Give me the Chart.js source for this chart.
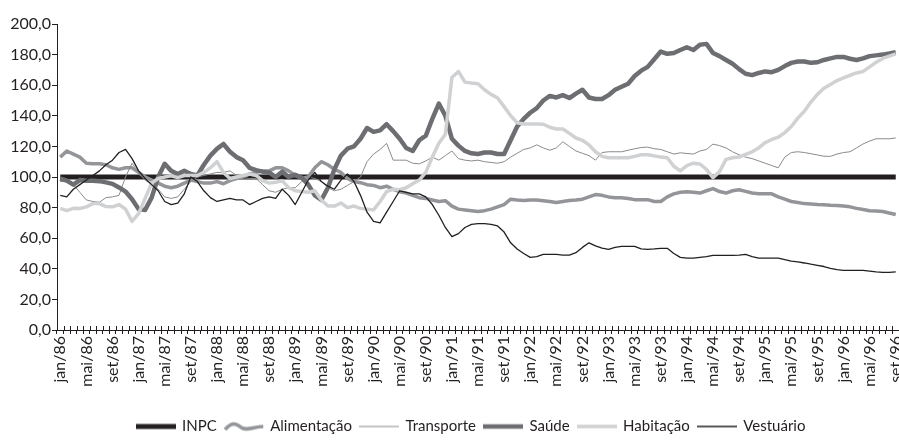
<!DOCTYPE html>
<html lang="pt-BR">
<head>
<meta charset="utf-8">
<title>INPC e componentes, jan/86 a set/96</title>
<script src="https://cdn.jsdelivr.net/npm/chart.js@4/dist/chart.umd.min.js"></script>
<style>
  html, body { margin: 0; padding: 0; background: #fff; }
</style>
</head>
<body>
<canvas id="chart" width="899" height="447"></canvas>
<script>
// meses de jan/86 a set/96 (129 observacoes)
const meses = ['jan', 'fev', 'mar', 'abr', 'mai', 'jun', 'jul', 'ago', 'set', 'out', 'nov', 'dez'];
const anos = ['86', '87', '88', '89', '90', '91', '92', '93', '94', '95', '96'];
const TOTAL_MESES = 129;

const yTicks = [0, 20, 40, 60, 80, 100, 120, 140, 160, 180, 200];

const inpc = new Array(TOTAL_MESES).fill(100);

const alimentacao = [
  113, 117, 115, 113, 109, 108.7, 108.7, 108, 106, 105,
  106, 106, 103, 100, 98, 96, 94, 93, 94, 96,
  98, 97, 96, 96, 97, 95.6, 97.6, 99, 100, 102,
  103, 104, 104, 106, 106, 104, 101, 99, 100, 106,
  110, 108, 105, 103, 99, 97, 96.3, 95, 94.5, 93,
  94, 92, 90.4, 89.5, 88, 86.5, 86, 85, 84, 84.5,
  81, 79, 78.5, 78, 77.5, 78, 79, 80.5, 82, 85.5,
  85, 84.6, 85, 85, 84.5, 84, 83.3, 84, 84.6, 85,
  85.5, 87, 88.5, 88, 87, 86.5, 86.5, 86, 85.2, 85.2,
  85.2, 84, 84, 87, 89, 90, 90.4, 90, 89.5, 91,
  92.4, 90.5, 89.5, 91, 91.7, 90.6, 89.5, 89, 89, 89,
  87, 85.5, 84, 83.3, 82.6, 82.4, 82, 81.8, 81.5, 81.3,
  81, 80.5, 79.5, 78.8, 78, 77.7, 77.4, 76.5, 75.5
];

const transporte = [
  97, 97, 95, 90, 85, 84, 83.5, 86.5, 87, 88,
  100, 109, 103, 98, 95, 92, 87, 86, 87, 92,
  97, 100, 101, 102, 103, 103, 104, 101, 99.5, 99,
  99, 95, 91, 90, 92, 93, 93, 97, 100, 99,
  97, 93, 91, 92, 94.5, 97, 100, 110, 115, 118,
  122, 111, 111, 111, 109, 108.6, 110.5, 113, 111, 114,
  117, 112, 111, 110.5, 111, 110, 109.5, 109, 110, 113,
  115.5, 118, 119, 121, 119, 117.5, 119, 123, 120, 117,
  115.5, 114, 111, 116, 116.5, 116.5, 116.5, 117.5, 118.4, 119.3,
  119.5, 118.5, 118, 116.5, 115, 115.8, 115.4, 115, 117, 118,
  121.5, 120.5, 119, 116.5, 114.5, 113, 112, 110.5, 109, 107.5,
  106, 113, 116, 116.5, 116, 115.2, 114.4, 113.6, 113.5, 115,
  116, 116.5, 119, 121.6, 123.5, 125, 125, 125, 125.5
];

const saude = [
  99, 97.6, 95, 98, 97.6, 97.6, 97.3, 96.5, 95.5, 93.2,
  90.5, 85.5, 79, 78.5, 86.5, 100, 108.6, 104, 102, 104,
  102, 101, 108, 114, 118.4, 121.6, 116.5, 113, 111, 106,
  104.5, 103.5, 103, 100, 103.5, 100, 101.5, 99.5, 95, 88,
  85, 93, 105, 114, 118.5, 120, 125, 132, 129.5, 130.5,
  134.5, 130, 125, 119, 117, 124, 127, 138, 148, 140,
  125, 120.5, 117, 115.5, 115, 116, 116, 115, 115, 124,
  133, 138, 142, 145, 150, 153, 152, 153.5, 151.6, 154.5,
  157, 152, 151, 151, 153.5, 157, 159, 161, 166, 169.5,
  172, 177, 182, 180.5, 181, 183, 184.8, 183, 186.5, 187,
  181, 179, 176.5, 174, 170.5, 167.5, 166.6, 168, 169, 168.5,
  170, 172.5, 174.6, 175.5, 175.5, 174.6, 175, 176.5, 177.5, 178.5,
  178.5, 177.3, 176.5, 177.5, 179, 179.5, 180, 180.7, 181.5
];

const habitacao = [
  79.5, 78, 79.5, 79.4, 80.5, 82.6, 82.6, 80.7, 80.5, 82,
  79, 71, 76, 86, 96, 99, 100, 100.8, 99.6, 101,
  101, 101, 103, 106, 110, 103, 99, 100, 101, 102,
  101, 97.6, 96, 96.5, 97.6, 93, 91, 90.5, 90, 91,
  85, 81, 81, 83, 80, 81, 79.5, 79, 78.5, 84,
  90.5, 92, 91.7, 93, 95.6, 98, 103, 113, 122, 128,
  165, 169, 162, 161.4, 161, 157, 154, 151.6, 146, 140,
  135.5, 134.7, 134.7, 134.7, 134.5, 132.5, 131.4, 131.4, 128.5, 125.5,
  124, 121, 116.5, 113.5, 112.6, 112.6, 112.6, 112.6, 113.5, 114.5,
  114.5, 113.8, 113, 112.6, 107, 104, 107.4, 109, 108.5, 105,
  99.6, 103.5, 111.5, 112.6, 113, 114.8, 116.5, 119, 122.5, 124.5,
  126, 129, 133, 138.5, 143, 149, 154, 158, 160.5, 163,
  164.8, 166.5, 168, 169, 172, 175, 177.5, 179, 180.5
];

const vestuario = [
  88, 87, 92, 95, 98, 101, 104, 108, 111, 116,
  118, 112, 104, 99, 95, 91, 84, 82, 83, 89,
  100, 97, 91, 86.5, 84, 85, 86, 85, 85, 82,
  84, 86, 87, 86, 92, 88, 82, 90, 98, 103,
  97, 94, 92, 98, 102, 97, 88, 77, 71, 70,
  77, 84, 91, 90, 89, 89, 87, 82, 75, 67,
  61, 63, 67, 69, 69.5, 69.5, 69, 68, 64, 57,
  53, 50, 47.5, 48, 49.4, 49.4, 49.4, 49, 49, 50.5,
  54, 57, 55, 53.5, 52.7, 54, 54.7, 54.7, 54.7, 53,
  52.7, 53, 53.4, 53.4, 50, 47.5, 47, 47, 47.5, 48,
  48.8, 48.8, 48.8, 48.8, 49, 49.4, 48, 47, 47, 47,
  47, 46, 45, 44.5, 43.8, 43, 42.3, 41.5, 40.3, 39.5,
  39, 39, 39, 39, 38.5, 38, 37.7, 37.7, 38
];

const labels = [];
anos.forEach(a => meses.forEach(m => {
  if (labels.length < TOTAL_MESES) labels.push(`${m}/${a}`);
}));

const TEXTO = '#231f20';

// icones da legenda (linha reta ou ondulada)
function iconeLinha(cor, espessura, ondulada) {
  const c = document.createElement('canvas');
  c.width = 40;
  c.height = 12;
  const g = c.getContext('2d');
  g.strokeStyle = cor;
  g.lineWidth = espessura;
  g.beginPath();
  if (ondulada) {
    g.moveTo(1, 9);
    g.bezierCurveTo(7, 2, 11, 2, 17, 7);
    g.bezierCurveTo(23, 11, 29, 6, 39, 6);
  } else {
    g.moveTo(0, 6);
    g.lineTo(40, 6);
  }
  g.stroke();
  return c;
}

function serie(label, data, cor, espessura, ordem, ondulada) {
  return {
    label,
    data,
    borderColor: cor,
    backgroundColor: cor,
    borderWidth: espessura,
    borderJoinStyle: 'round',
    pointRadius: 0,
    pointStyle: iconeLinha(cor, espessura, ondulada),
    tension: 0,
    order: ordem
  };
}

// marcas do eixo x atravessando a linha (parte de cima)
const cruzTicks = {
  id: 'cruzTicks',
  afterDraw(chart) {
    const x = chart.scales.x;
    const passo = x.width / x.ticks.length;
    const ctx = chart.ctx;
    ctx.save();
    ctx.strokeStyle = TEXTO;
    ctx.lineWidth = 1;
    ctx.beginPath();
    for (let i = 0; i <= x.ticks.length; i++) {
      const px = Math.round(x.left + i * passo) + 0.5;
      ctx.moveTo(px, x.top - 4);
      ctx.lineTo(px, x.top);
    }
    ctx.stroke();
    ctx.restore();
  }
};

// legenda um pouco deslocada para a direita, como no original
const moveLegenda = {
  id: 'moveLegenda',
  afterLayout(chart) {
    chart.legend.left += 22;
    chart.legend.right += 22;
  }
};

Chart.defaults.font.family = 'Lato, "Open Sans", sans-serif';
Chart.defaults.color = TEXTO;

new Chart(document.getElementById('chart'), {
  type: 'line',
  data: {
    labels,
    datasets: [
      serie('INPC', inpc, '#231f20', 5, 5),
      serie('Alimentação', alimentacao, '#939598', 3.5, 4, true),
      serie('Transporte', transporte, '#8a8a8c', 1, 3),
      serie('Saúde', saude, '#6d6e71', 4.5, 2),
      serie('Habitação', habitacao, '#d0d1d3', 3.5, 1),
      serie('Vestuário', vestuario, '#231f20', 1.3, 0)
    ]
  },
  options: {
    responsive: false,
    animation: false,
    layout: { padding: { top: 24, right: 0, bottom: 3, left: 0 } },
    plugins: {
      tooltip: { enabled: false },
      legend: {
        position: 'bottom',
        labels: {
          usePointStyle: true,
          pointStyleWidth: 37,
          padding: 9,
          font: { size: 15 },
          color: TEXTO,
          sort: (a, b) => a.datasetIndex - b.datasetIndex
        }
      }
    },
    scales: {
      x: {
        offset: true,
        afterFit: s => {
          s.height = 80;
          s.paddingLeft = 0;
          s.paddingRight = 0;
        },
        grid: {
          offset: true,
          drawOnChartArea: false,
          drawTicks: true,
          tickLength: 4,
          color: TEXTO
        },
        border: { display: true, color: TEXTO, width: 1 },
        ticks: {
          autoSkip: false,
          maxRotation: 90,
          minRotation: 90,
          padding: 2,
          font: { size: 16 },
          color: TEXTO,
          callback: (v, i) => (i % 4 === 0 ? labels[i] : '')
        }
      },
      y: {
        min: 0,
        max: 200,
        afterFit: s => { s.width = 57; },
        afterBuildTicks: s => { s.ticks = yTicks.map(v => ({ value: v })); },
        grid: {
          drawOnChartArea: false,
          drawTicks: true,
          tickLength: 5,
          color: TEXTO
        },
        border: { display: true, color: TEXTO, width: 1 },
        ticks: {
          padding: 1,
          font: { size: 16 },
          color: TEXTO,
          callback: v => v.toFixed(1).replace('.', ',')
        }
      }
    }
  },
  plugins: [cruzTicks, moveLegenda]
});
</script>
</body>
</html>
